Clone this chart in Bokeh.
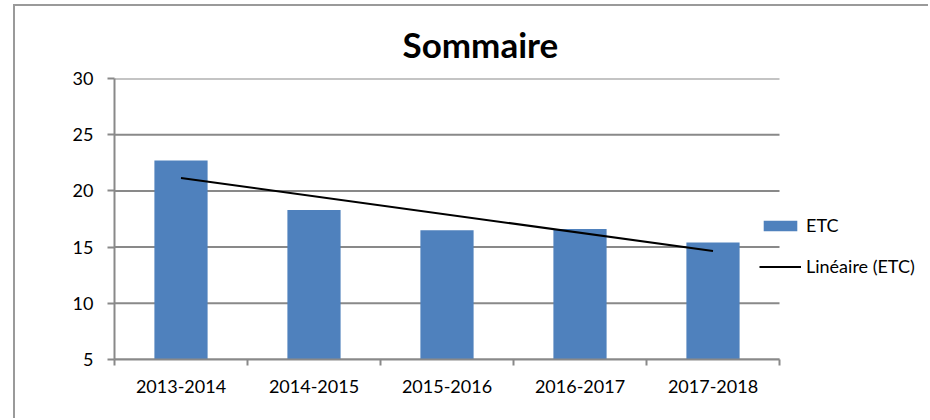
from bokeh.plotting import figure
from bokeh.models import (Range1d, FixedTicker, Legend, LegendItem, Title, ColumnDataSource)
from bokeh.embed import file_html
from bokeh.resources import INLINE

# ---- data ----
categories = ["2013-2014", "2014-2015", "2015-2016", "2016-2017", "2017-2018"]
etc_values = [22.7, 18.3, 16.5, 16.6, 15.4]
# linear trendline (Linéaire (ETC)) endpoints
trend_values = [21.15, 14.65]
y_ticks = [5, 10, 15, 20, 25, 30]

n = len(categories)
positions = list(range(1, n + 1))
FONT = "Lato"
GRAY = "#898989"

W, H = 915, 414
LEFT, TOP, BOTTOM = 99, 72, 61
plot_w = 665            # width of the category area
frame_w = W - LEFT      # frame runs to the right edge so the legend is not clipped
x_end = 0.5 + n * frame_w / plot_w

p = figure(width=W, height=H, output_backend="svg", toolbar_location=None,
           x_range=Range1d(0.5, x_end), y_range=Range1d(y_ticks[0], y_ticks[-1]),
           min_border_left=LEFT, min_border_right=0, min_border_top=TOP, min_border_bottom=BOTTOM,
           outline_line_color=None, background_fill_color="white", border_fill_color="white",
           styles={"border-top": "2px solid #9a9a9a", "border-left": "2px solid #9a9a9a",
                   "margin-left": "13px", "margin-top": "4px"})

t = Title(text="Sommaire", text_font=FONT, text_font_size="35px", text_font_style="bold",
          text_color="black", align="left", offset=288, standoff=27)
p.add_layout(t, "above")

# horizontal gridlines limited to the category area
p.segment(x0=[0.5] * len(y_ticks), x1=[n + 0.5] * len(y_ticks), y0=y_ticks, y1=y_ticks,
          line_color=GRAY, line_width=2)

src = ColumnDataSource(dict(x=positions, top=etc_values))
bars = p.vbar(x="x", top="top", bottom=y_ticks[0], width=0.4, source=src,
              fill_color="#4F81BD", line_color=None)
trend = p.line(x=[positions[0], positions[-1]], y=trend_values, line_color="black", line_width=2)

# axes
xa = p.xaxis[0]
xa.bounds = (0.5, n + 0.5)
xa.ticker = FixedTicker(ticks=positions, minor_ticks=[x - 0.5 for x in positions] + [n + 0.5])
xa.major_label_overrides = {pos: c for pos, c in zip(positions, categories)}
xa.major_tick_line_color = None
xa.minor_tick_line_color = GRAY
xa.minor_tick_line_width = 2
xa.minor_tick_out = 6
xa.minor_tick_in = 0
xa.axis_line_color = GRAY
xa.axis_line_width = 2
xa.major_label_text_font = FONT
xa.major_label_text_font_size = "18px"
xa.major_label_text_color = "black"
xa.major_label_standoff = 14

ya = p.yaxis[0]
ya.ticker = FixedTicker(ticks=y_ticks)
ya.major_tick_line_color = GRAY
ya.major_tick_line_width = 2
ya.major_tick_out = 7
ya.major_tick_in = 0
ya.minor_tick_line_color = None
ya.axis_line_color = GRAY
ya.axis_line_width = 2
ya.major_label_text_font = FONT
ya.major_label_text_font_size = "18px"
ya.major_label_text_color = "black"
ya.major_label_standoff = 14

p.xgrid.grid_line_color = None
p.ygrid.grid_line_color = None

legend = Legend(items=[LegendItem(label="ETC", renderers=[bars]),
                       LegendItem(label="Linéaire (ETC)", renderers=[trend])],
                location=(645, 82), padding=0, margin=0, border_line_color=None,
                background_fill_alpha=0, glyph_width=42, glyph_height=13,
                label_height=20, spacing=19, label_standoff=5,
                label_text_font=FONT, label_text_font_size="18px", label_text_color="black")
p.add_layout(legend, "center")

open("out.html", "w").write(file_html(p, INLINE))
